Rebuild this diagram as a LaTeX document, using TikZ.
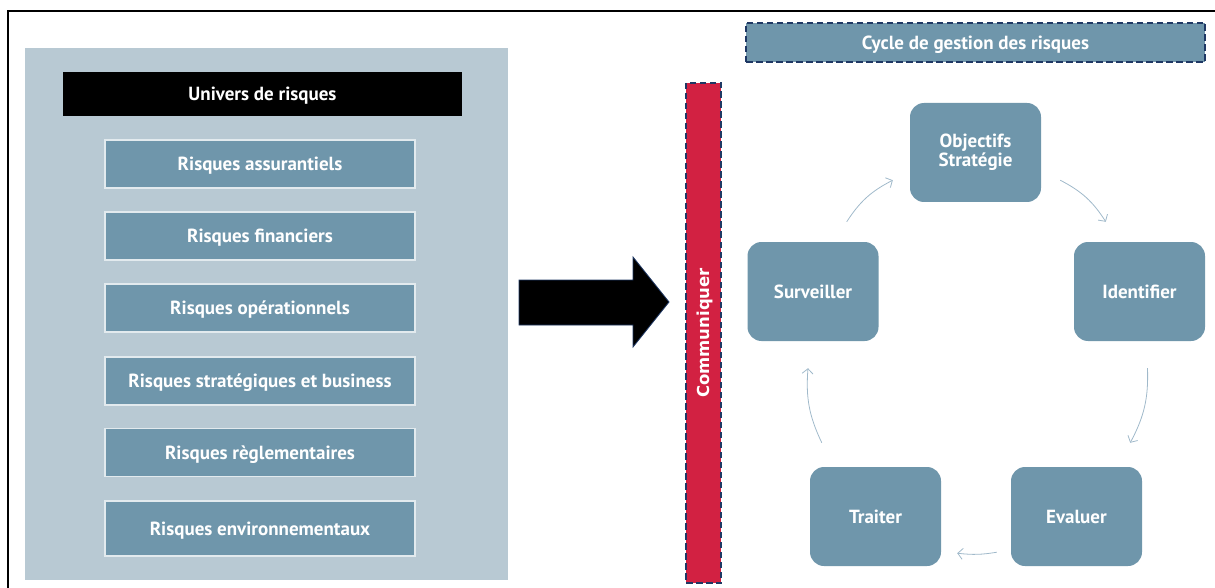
\documentclass[tikz,border=0pt]{standalone}
\usepackage{fontspec}
\setmainfont{PT Sans}
\newfontfamily\widefont{DejaVu Sans}
\usetikzlibrary{arrows.meta}

\definecolor{panelgrey}{RGB}{184,201,211}
\definecolor{riskblue}{RGB}{111,150,171}
\definecolor{commred}{RGB}{210,33,66}
\definecolor{navydash}{RGB}{31,56,100}
\definecolor{arrowgrey}{RGB}{160,185,202}

\begin{document}
\begin{tikzpicture}[x=1pt,y=-1pt]
    \tikzstyle{every node}=[font=\fontsize{19}{19}\selectfont\bfseries, text=white, inner sep=0pt, text depth=0pt]
    \tikzstyle{riskbox}=[fill=riskblue, draw=white!80!riskblue, line width=1.2pt, minimum width=310pt, minimum height=48pt]
    \tikzstyle{cyclebox}=[fill=riskblue, rounded corners=14pt, minimum width=131pt, minimum height=99pt, align=center]
    \tikzstyle{dashbox}=[draw=navydash, line width=1.8pt, dash pattern=on 6.5pt off 3.5pt]
    \tikzstyle{cyc}=[draw=arrowgrey, line width=0.8pt, -{Straight Barb[length=5pt,width=11pt]}]
    \useasboundingbox (0,0) rectangle (1215,588);
    % frame and left panel
    \draw[line width=2pt] (1215,11) -- (8,11) -- (8,588);
    \fill[panelgrey] (25,48) rectangle (508,580);
    % risk list
    \node[fill=black, minimum width=399pt, minimum height=44pt] (univ) at (262.5,94) {Univers de risques};
    \node[riskbox] (assur) at (260,164) {Risques assurantiels};
    \node[riskbox] (finan) at (260,236) {Risques financiers};
    \node[riskbox] (opera) at (260,308) {Risques opérationnels};
    \node[riskbox] (strat) at (260,381) {Risques stratégiques et business};
    \node[riskbox] (regle) at (260,452.5) {Risques règlementaires};
    \node[riskbox, minimum height=55pt] (envir) at (260,528.5) {Risques environnementaux};
    % big arrow
    \filldraw[fill=black, draw=navydash, line width=0.8pt] (519,280) -- (633,280) -- (633,257) -- (669,302)
        -- (633,347) -- (633,325) -- (519,325) -- cycle;
    % communication bar
    \node[dashbox, fill=commred, rotate=90, minimum width=500pt, minimum height=35pt,
        font=\widefont\fontsize{16.5}{18}\selectfont\bfseries] (comm) at (703.5,333) {Communiquer};
    % cycle
    \node[dashbox, fill=riskblue, minimum width=459pt, minimum height=39pt] (title) at (975.5,42.5) {Cycle de gestion des risques};
    \node[cyclebox, text depth=] (obj) at (975.5,152.5) {Objectifs\\Stratégie};
    \node[cyclebox] (ident) at (1139.5,291.5) {Identifier};
    \node[cyclebox] (surv) at (813,291.5) {Surveiller};
    \node[cyclebox] (eval) at (1076.5,516.5) {Evaluer};
    \node[cyclebox] (trait) at (875.5,516.5) {Traiter};
    % arrows between steps
    \draw[cyc] ([xshift=-32pt,yshift=20pt]surv.north east) to[bend left=15] ([xshift=-17pt,yshift=22pt]obj.south west);
    \draw[cyc] ([xshift=19pt,yshift=22pt]obj.south east) to[bend left=15] ([xshift=32pt,yshift=20pt]ident.north west);
    \draw[cyc] ([xshift=8pt,yshift=-27pt]ident.south) to[bend left=15] ([xshift=-12pt,yshift=24pt]eval.north east);
    \draw[cyc] ([xshift=-14pt,yshift=14pt]eval.south west) to[bend left=8] ([xshift=16pt,yshift=13pt]trait.south east);
    \draw[cyc] ([xshift=12pt,yshift=24pt]trait.north west) to[bend left=15] ([xshift=-5pt,yshift=-27pt]surv.south);
\end{tikzpicture}
\end{document}
